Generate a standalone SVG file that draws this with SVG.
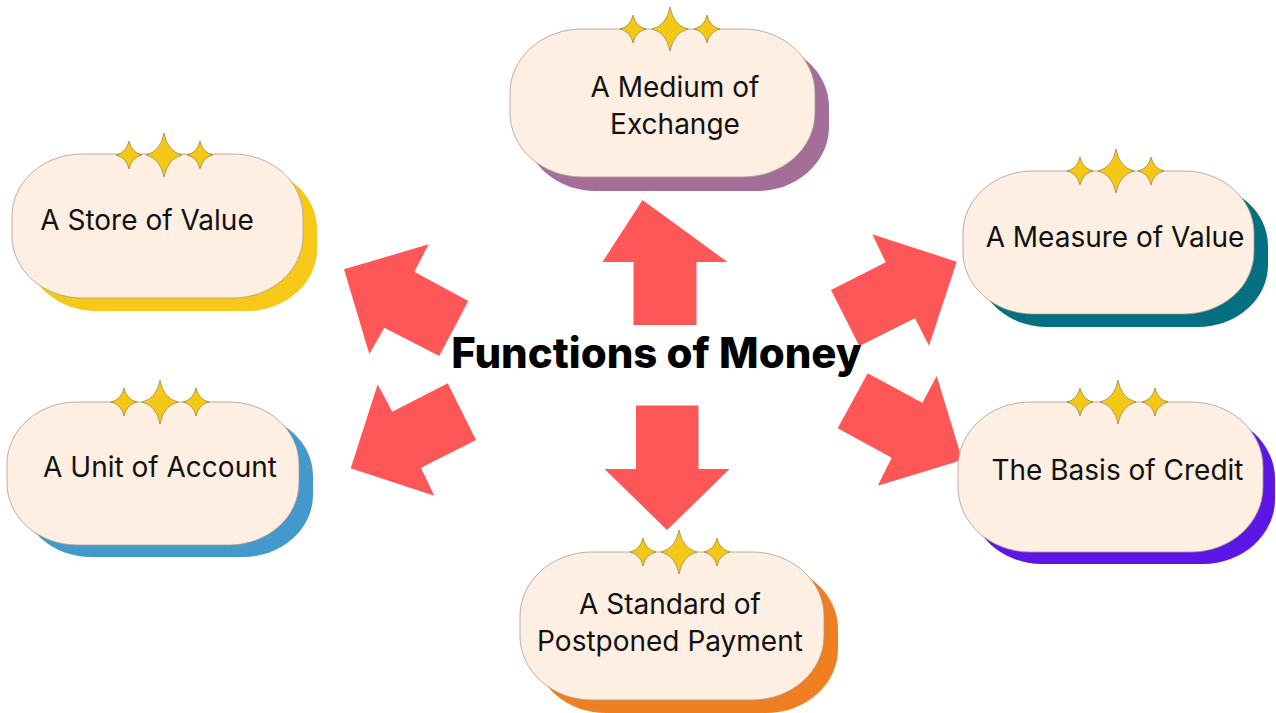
<svg xmlns="http://www.w3.org/2000/svg" width="1276" height="713" viewBox="0 0 1276 713">
<style>
.pill{fill:#FEEFE2;stroke:#A89C90;stroke-width:0.8}
.lbl{font-family:Inter,"Noto Sans","Liberation Sans",sans-serif;font-size:28px;fill:#111;text-anchor:middle}
.title{font-family:Inter,"Liberation Sans",sans-serif;font-size:42px;font-weight:800;fill:#000;text-anchor:middle}
.arrow{fill:#FF5757}
.star{fill:#F6C816;stroke:#7E6A2A;stroke-width:0.6}
</style>
<defs>
<path id="bigstar" class="star" d="M0,-22 Q3.5,-3.5 18,0 Q3.5,3.5 0,22 Q-3.5,3.5 -18,0 Q-3.5,-3.5 0,-22Z"/>
<path id="smallstar" class="star" d="M0,-14 Q2.5,-2.5 13,0 Q2.5,2.5 0,14 Q-2.5,2.5 -13,0 Q-2.5,-2.5 0,-14Z"/>
</defs>
<rect width="1276" height="713" fill="#fff"/>

<g id="connectors">
<polygon class="arrow" points="642.5,200 727.5,262 696.5,262 696.5,325 633.5,325 633.5,262 602.5,262"/>
<polygon class="arrow" points="636,405.5 698.5,405.5 698.5,469 729.5,469 667,530 604.5,469 636,469"/>
<polygon class="arrow" points="831,290 885.7,262.3 872.3,234.3 956.7,261.7 929,345.7 915,318.3 859.3,346"/>
<polygon class="arrow" points="867.7,373.3 922.3,402.7 936.7,376 962.3,460 877.7,485.7 891.7,457.7 837.7,428.3"/>
<polygon class="arrow" points="344,269.3 428.7,244.3 414.3,271.7 468.3,301 439.3,356 384.3,327.7 369.3,354"/>
<polygon class="arrow" points="377.7,384.3 392.3,411.7 447.7,383.3 476,440 421,467.7 434.3,495.7 350.7,468.3"/>
</g>

<g id="title">
<text class="title" x="656.5" y="368">Functions of Money</text>
</g>

<g id="node-medium">
<rect x="524" y="43" width="305" height="148" rx="72" ry="64" fill="#A46E99"/>
<rect class="pill" x="510" y="29" width="305" height="148" rx="72" ry="64"/>
<use href="#smallstar" x="633" y="29"/>
<use href="#smallstar" x="707" y="29"/>
<use href="#bigstar" x="670" y="29"/>
<text class="lbl" x="675" y="97">A Medium of</text>
<text class="lbl" x="675" y="134">Exchange</text>
</g>

<g id="node-store">
<rect x="26" y="167" width="291" height="144" rx="70" ry="62" fill="#F6C818"/>
<rect class="pill" x="12" y="154" width="291" height="144" rx="70" ry="62"/>
<use href="#smallstar" x="129" y="155"/>
<use href="#smallstar" x="200" y="155"/>
<use href="#bigstar" x="164" y="155"/>
<text class="lbl" x="147" y="230">A Store of Value</text>
</g>

<g id="node-measure">
<rect x="977" y="184" width="291" height="143" rx="70" ry="62" fill="#036F80"/>
<rect class="pill" x="963" y="171" width="291" height="143" rx="70" ry="62"/>
<use href="#smallstar" x="1080" y="171"/>
<use href="#smallstar" x="1151" y="171"/>
<use href="#bigstar" x="1116" y="171"/>
<text class="lbl" x="1115" y="247">A Measure of Value</text>
</g>

<g id="node-unit">
<rect x="21" y="414" width="292" height="143" rx="70" ry="62" fill="#4399CC"/>
<rect class="pill" x="7" y="402" width="292" height="143" rx="70" ry="62"/>
<use href="#smallstar" x="124" y="402"/>
<use href="#smallstar" x="196" y="402"/>
<use href="#bigstar" x="160" y="402"/>
<text class="lbl" x="160" y="477">A Unit of Account</text>
</g>

<g id="node-credit">
<rect x="970" y="414" width="305" height="150" rx="72" ry="65" fill="#5C17E6"/>
<rect class="pill" x="958" y="402" width="305" height="150" rx="72" ry="65"/>
<use href="#smallstar" x="1080" y="402"/>
<use href="#smallstar" x="1155" y="402"/>
<use href="#bigstar" x="1118" y="402"/>
<text class="lbl" x="1117.5" y="480">The Basis of Credit</text>
</g>

<g id="node-standard">
<rect x="534" y="565" width="304" height="148" rx="72" ry="64" fill="#F07F22"/>
<rect class="pill" x="520" y="552" width="304" height="148" rx="72" ry="64"/>
<use href="#smallstar" x="643" y="552"/>
<use href="#smallstar" x="717" y="552"/>
<use href="#bigstar" x="679" y="552"/>
<text class="lbl" x="670" y="614">A Standard of</text>
<text class="lbl" x="670" y="651">Postponed Payment</text>
</g>
</svg>
